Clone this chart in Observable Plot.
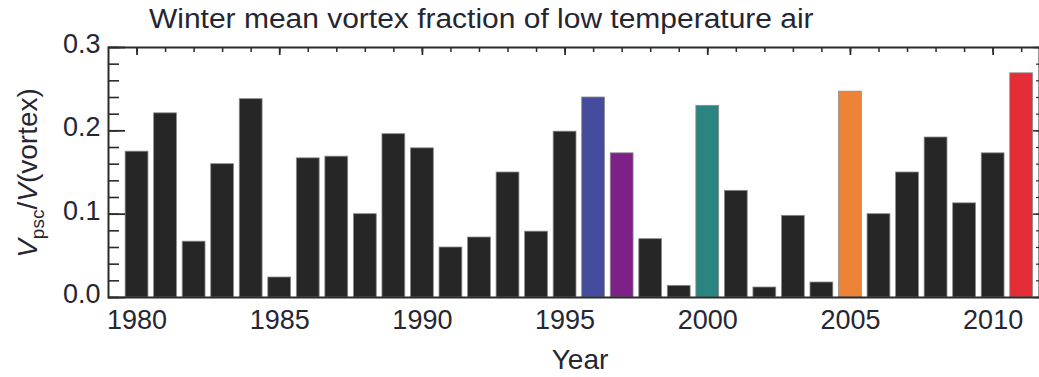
<!DOCTYPE html>
<html>
<head>
<meta charset="utf-8">
<script src="https://cdn.jsdelivr.net/npm/d3@7"></script>
<script src="https://cdn.jsdelivr.net/npm/@observablehq/plot@0.6"></script>
<style>
  body { margin: 0; background: #fff; font-family: "Liberation Sans", Arial, sans-serif; }
  #wrap { position: relative; width: 1039px; height: 377px; overflow: hidden; }
  #title {
    position: absolute; left: 149px; top: 6px;
    font-size: 27px; line-height: 1; color: #262633; white-space: nowrap;
    transform: scaleX(1.11); transform-origin: left top;
  }
  #wrap svg { position: absolute; left: 0; top: 0; }
</style>
</head>
<body>
<div id="wrap">
  <div id="title">Winter mean vortex fraction of low temperature air</div>
</div>
<script>
// Winters 1980–2011
const years = [1980, 1981, 1982, 1983, 1984, 1985, 1986, 1987, 1988, 1989,
               1990, 1991, 1992, 1993, 1994, 1995, 1996, 1997, 1998, 1999,
               2000, 2001, 2002, 2003, 2004, 2005, 2006, 2007, 2008, 2009,
               2010, 2011];

// Fraction of vortex volume cold enough for polar stratospheric clouds
const fractions = [0.175, 0.221, 0.067, 0.160, 0.238, 0.024, 0.167, 0.169, 0.100, 0.196,
                   0.179, 0.060, 0.072, 0.150, 0.079, 0.199, 0.240, 0.173, 0.070, 0.014,
                   0.230, 0.128, 0.012, 0.098, 0.018, 0.247, 0.100, 0.150, 0.192, 0.113,
                   0.173, 0.269];

// Highlighted winters; all others are drawn in near-black
const highlightYears  = [1996, 1997, 2000, 2005, 2011];
const highlightColors = ["#454c9e", "#7d2088", "#2a8482", "#ec8337", "#e42d36"];
const baseColor = "#262626";

// Axis tick values
const yLabelTicks = [0.0, 0.1, 0.2, 0.3];
const yMinorTicks = d3.range(0, 0.3001, 0.02);
const xLabelTicks = [1980, 1985, 1990, 1995, 2000, 2005, 2010];
const xMinorTicks = years;

const data = years.map((year, i) => {
  const h = highlightYears.indexOf(year);
  return {year, value: fractions[i], color: h >= 0 ? highlightColors[h] : baseColor};
});

const W = 1039, H = 377;
const mT = 47, mB = 80, mL = 108;
const frameW = 1040 - mL, frameH = H - mT - mB;
const ink = "#262633";
const axisInk = "#2b2b2b";

const chart = Plot.plot({
  width: W,
  height: H,
  marginTop: mT,
  marginBottom: mB,
  marginLeft: mL,
  marginRight: 0,
  x: {domain: [1979, 2011.66], range: [mL, 1040]},
  y: {domain: [0, 0.3]},
  color: {type: "identity"},
  style: {fontFamily: "Liberation Sans, Arial, sans-serif", color: ink, background: "transparent", overflow: "hidden"},
  marks: [
    // bottom ticks (pointing up), mostly covered by the bars
    Plot.tickX(xMinorTicks, {x: d => d, insetTop: frameH - 5, stroke: axisInk, strokeWidth: 1.5}),
    // bars
    Plot.rectY(data, {
      x1: d => d.year - 0.4, x2: d => d.year + 0.4, y: "value",
      fill: "color", stroke: "#8c8c8c", strokeWidth: 0.8
    }),
    // top ticks (pointing down)
    Plot.tickX(xMinorTicks, {x: d => d, insetBottom: frameH - 5, stroke: axisInk, strokeWidth: 1.5}),
    Plot.tickX(xLabelTicks, {x: d => d, insetBottom: frameH - 8, stroke: axisInk, strokeWidth: 1.8}),
    // left ticks (pointing right)
    Plot.tickY(yMinorTicks, {y: d => d, insetRight: frameW - 12, stroke: axisInk, strokeWidth: 1.6}),
    Plot.tickY(yLabelTicks, {y: d => d, insetRight: frameW - 18, stroke: axisInk, strokeWidth: 1.8}),
    // right ticks (pointing left)
    Plot.tickY(yMinorTicks, {y: d => d, insetLeft: frameW - 4, stroke: axisInk, strokeWidth: 1.2}),
    Plot.tickY(yLabelTicks, {y: d => d, insetLeft: frameW - 7, stroke: axisInk, strokeWidth: 1.5}),
    Plot.frame({stroke: axisInk, strokeWidth: 2}),
    // tick labels
    Plot.axisY({ticks: yLabelTicks, tickFormat: d3.format(".1f"), tickSize: 0, tickPadding: 8,
                fontSize: 27, label: null, dy: -3}),
    Plot.axisX({ticks: xLabelTicks, tickFormat: d => String(d), tickSize: 0, tickPadding: 12,
                fontSize: 27, label: null}),
    // x-axis title
    Plot.text(["Year"], {frameAnchor: "bottom", text: d => d, dx: 6, dy: 71, fontSize: 28, fill: ink})
  ]
});

// y-axis title with italic V and subscript "psc"
const yTitle = d3.select(chart).append("text")
  .attr("transform", "translate(37,173) rotate(-90)")
  .attr("text-anchor", "middle")
  .attr("font-size", 28)
  .attr("fill", ink);
yTitle.append("tspan").attr("font-style", "italic").text("V");
yTitle.append("tspan").attr("font-size", 19).attr("dy", 7).text("psc");
yTitle.append("tspan").attr("dy", -7).text("/");
yTitle.append("tspan").attr("font-style", "italic").text("V");
yTitle.append("tspan").text("(vortex)");

document.getElementById("wrap").appendChild(chart);
</script>
</body>
</html>
